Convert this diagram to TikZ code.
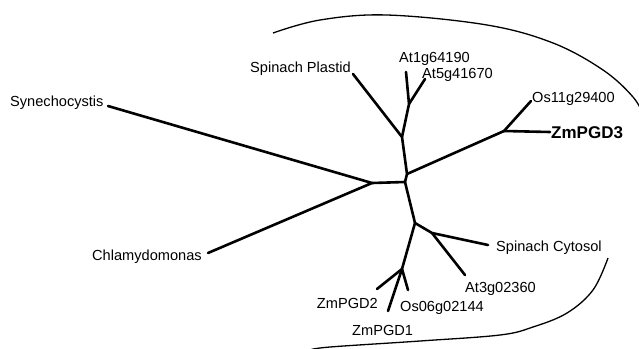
\documentclass[tikz,border=0pt]{standalone}
\usepackage{fontspec}
\setmainfont{Liberation Sans}
\begin{document}
\begin{tikzpicture}[x=1pt,y=-1pt,
  branch/.style={line width=2.6pt,line cap=round,line join=round},
  hull/.style={line width=1.3pt},
  leaflabel/.style={inner sep=0pt,font=\fontsize{14.6}{16}\selectfont},
  boldlabel/.style={inner sep=0pt,font=\fontsize{17}{19}\selectfont\bfseries}]
\useasboundingbox (0,0) rectangle (639,348);
\clip (0,0) rectangle (639,348);
% junctions
\coordinate (jL) at (372,183);
\coordinate (jC) at (405,182);
\coordinate (jCa) at (407,174);
\coordinate (jP) at (402,137);
\coordinate (jA) at (409,104);
\coordinate (jZ3) at (504,131);
\coordinate (jD) at (415,223);
\coordinate (jS) at (432,233);
\coordinate (jM) at (402,269);
% leaf ends
\coordinate (lSyn) at (108,106);
\coordinate (lChl) at (208,253);
\coordinate (lSP) at (353,74);
\coordinate (lA1) at (406,72);
\coordinate (lA5) at (425,79);
\coordinate (lOs11) at (531,101);
\coordinate (lZ3) at (550,132);
\coordinate (lSC) at (488,245);
\coordinate (lA3) at (465,275);
\coordinate (lZ2) at (377,289);
\coordinate (lOs06) at (408,290);
\coordinate (lZ1) at (388,311);
% labels
\node[leaflabel,anchor=base west] (tSyn) at (10,106) {Synechocystis};
\node[leaflabel,anchor=base west] (tChl) at (92,260) {Chlamydomonas};
\node[leaflabel,anchor=base west] (tSP) at (250,72.5) {Spinach Plastid};
\node[leaflabel,anchor=base west] (tA1) at (399,62) {At1g64190};
\node[leaflabel,anchor=base west] (tA5) at (422,78) {At5g41670};
\node[leaflabel,anchor=base west] (tOs11) at (532,102) {Os11g29400};
\node[boldlabel,anchor=base west] (tZ3) at (551,138) {ZmPGD3};
\node[leaflabel,anchor=base west] (tSC) at (496,251) {Spinach Cytosol};
\node[leaflabel,anchor=base west] (tA3) at (465,292) {At3g02360};
\node[leaflabel,anchor=base west] (tOs06) at (400,311) {Os06g02144};
\node[leaflabel,anchor=base east] (tZ2) at (378,308) {ZmPGD2};
\node[leaflabel,anchor=base west] (tZ1) at (352,335) {ZmPGD1};
% branches
\draw[branch] (lSyn) -- (jL) -- (lChl);
\draw[branch] (jL) -- (jC) -- (jCa) -- (jP) -- (lSP);
\draw[branch] (jP) -- (jA) -- (lA1);
\draw[branch] (jA) -- (lA5);
\draw[branch] (jCa) -- (jZ3) -- (lOs11);
\draw[branch] (jZ3) -- (lZ3);
\draw[branch] (jC) -- (jD) -- (jS) -- (lSC);
\draw[branch] (jS) -- (lA3);
\draw[branch] (jD) -- (jM) -- (lZ2);
\draw[branch] (jM) -- (lOs06);
\draw[branch] (jM) -- (lZ1);
% enclosing curve
\draw[hull] plot[smooth,tension=0.6] coordinates {(273,33) (320,20) (387,15) (487,25) (553,43) (603,70) (633,97) (645,118)};
\draw[hull] plot[smooth,tension=0.6] coordinates {(608,258) (593,290) (567,313) (533,327) (500,335) (420,341) (330,347) (310,350)};
\end{tikzpicture}
\end{document}
